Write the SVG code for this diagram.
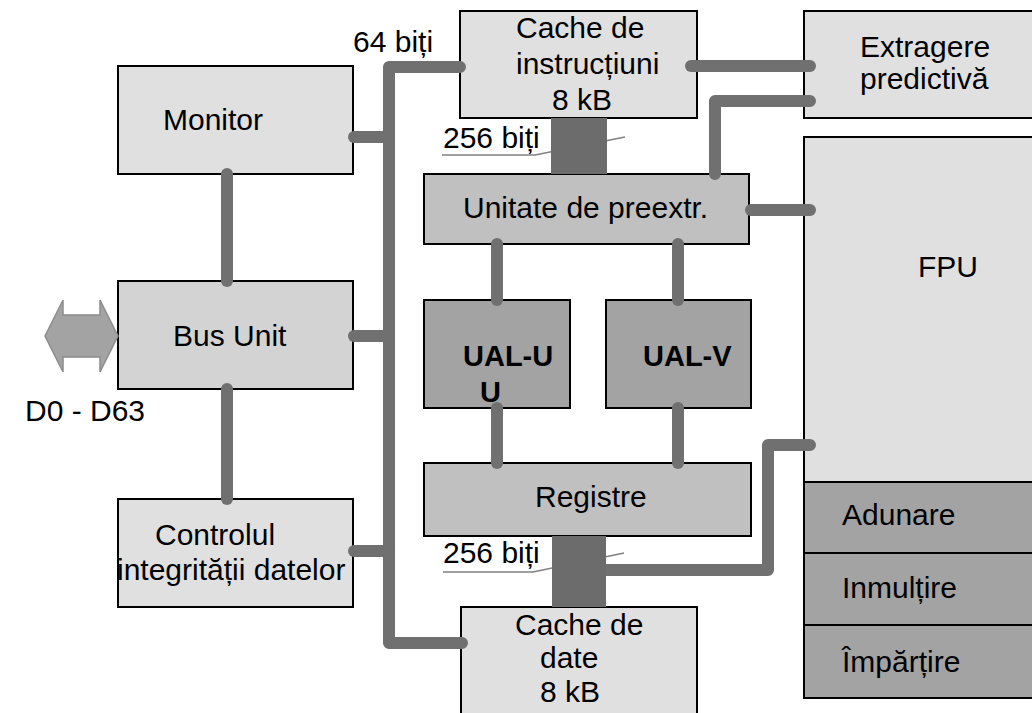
<svg xmlns="http://www.w3.org/2000/svg" width="1032" height="713" viewBox="0 0 1032 713">
<style>
.box{stroke:#000;stroke-width:2}
.l1{fill:#e0e0e0}
.l2{fill:#d3d3d3}
.l3{fill:#c0c0c0}
.l4{fill:#a3a3a3}
text{font-family:"Liberation Sans",Arial,sans-serif;font-size:30px;fill:#000}
.b{font-weight:bold;font-size:29px}
.c{fill:none;stroke:#707070;stroke-width:12;stroke-linecap:round;stroke-linejoin:round}
.thin{fill:none;stroke:#808080;stroke-width:1.6}
.blk{fill:#6c6c6c}
</style>
<rect width="1032" height="713" fill="#fff"/>
<g id="monitor"><rect class="box l1" x="118" y="66" width="235" height="108"/><text x="163" y="130">Monitor</text></g>
<g id="bus-unit"><rect class="box l2" x="118" y="281" width="235" height="108"/><text x="173" y="346">Bus Unit</text></g>
<g id="controlul"><rect class="box l1" x="118" y="499" width="235" height="108"/><text x="155" y="545">Controlul</text><text x="117" y="580">integrității datelor</text></g>
<g id="cache-instr"><rect class="box l1" x="460" y="11" width="237" height="107"/><text x="516" y="38">Cache de</text><text x="516" y="74">instrucțiuni</text><text x="552" y="110">8 kB</text></g>
<g id="extragere"><rect class="box l1" x="804" y="11" width="240" height="107"/><text x="860" y="57">Extragere</text><text x="860" y="89">predictivă</text></g>
<g id="unitate"><rect class="box l3" x="424" y="174" width="325" height="70"/><text x="463" y="218">Unitate de preextr.</text></g>
<g id="ual-u"><rect class="box l4" x="424" y="300" width="146" height="108"/><text class="b" x="463" y="366">UAL-U</text><text class="b" x="480" y="402">U</text></g>
<g id="ual-v"><rect class="box l4" x="606" y="300" width="145" height="108"/><text class="b" x="643" y="366">UAL-V</text></g>
<g id="registre"><rect class="box l3" x="424" y="463" width="327" height="73"/><text x="535" y="507">Registre</text></g>
<g id="cache-date"><rect class="box l1" x="461" y="607" width="236" height="120"/><text x="515" y="635">Cache de</text><text x="540" y="668">date</text><text x="540" y="702">8 kB</text></g>
<g id="fpu"><rect class="box l1" x="804" y="137" width="240" height="345"/><text x="918" y="277">FPU</text>
<rect class="box l4" x="804" y="482" width="240" height="71"/><text x="842" y="525">Adunare</text>
<rect class="box l4" x="804" y="553" width="240" height="72"/><text x="842" y="598">Inmulțire</text>
<rect class="box l4" x="804" y="625" width="240" height="73"/><text x="842" y="672">Împărțire</text></g>
<g id="d-bus"><polygon points="45,336 63,300 63,315 100,315 100,300 118,336 100,372 100,357 63,357 63,372" fill="#a3a3a3" stroke="#8c8c8c" stroke-width="1.5"/><text x="25" y="421">D0 - D63</text></g>
<g id="labels"><text x="353" y="52">64 biți</text><text x="443" y="148">256 biți</text><text x="443" y="563">256 biți</text>
<path class="thin" d="M442 155 L535 155 L625 137"/><path class="thin" d="M443 572 L533 572 L624 553"/></g>
<g id="connectors">
<path class="c" d="M460 67 L389 67 L389 643 L462 643"/>
<path class="c" d="M354 137 L389 137"/>
<path class="c" d="M354 336 L389 336"/>
<path class="c" d="M354 551 L389 551"/>
<path class="c" d="M227 174 L227 281"/>
<path class="c" d="M227 389 L227 499"/>
<path class="c" d="M691 66 L810 66"/>
<path class="c" d="M715 174 L715 101 L810 101"/>
<path class="c" d="M751 210 L810 210"/>
<path class="c" d="M497 244 L497 300"/>
<path class="c" d="M678 244 L678 300"/>
<path class="c" d="M497 408 L497 463"/>
<path class="c" d="M678 408 L678 463"/>
<path class="c" d="M606 570 L768 570 L768 445 L810 445"/>
<rect class="blk" x="551" y="118" width="56" height="56"/>
<rect class="blk" x="552" y="536" width="54" height="71"/>
</g>
</svg>
